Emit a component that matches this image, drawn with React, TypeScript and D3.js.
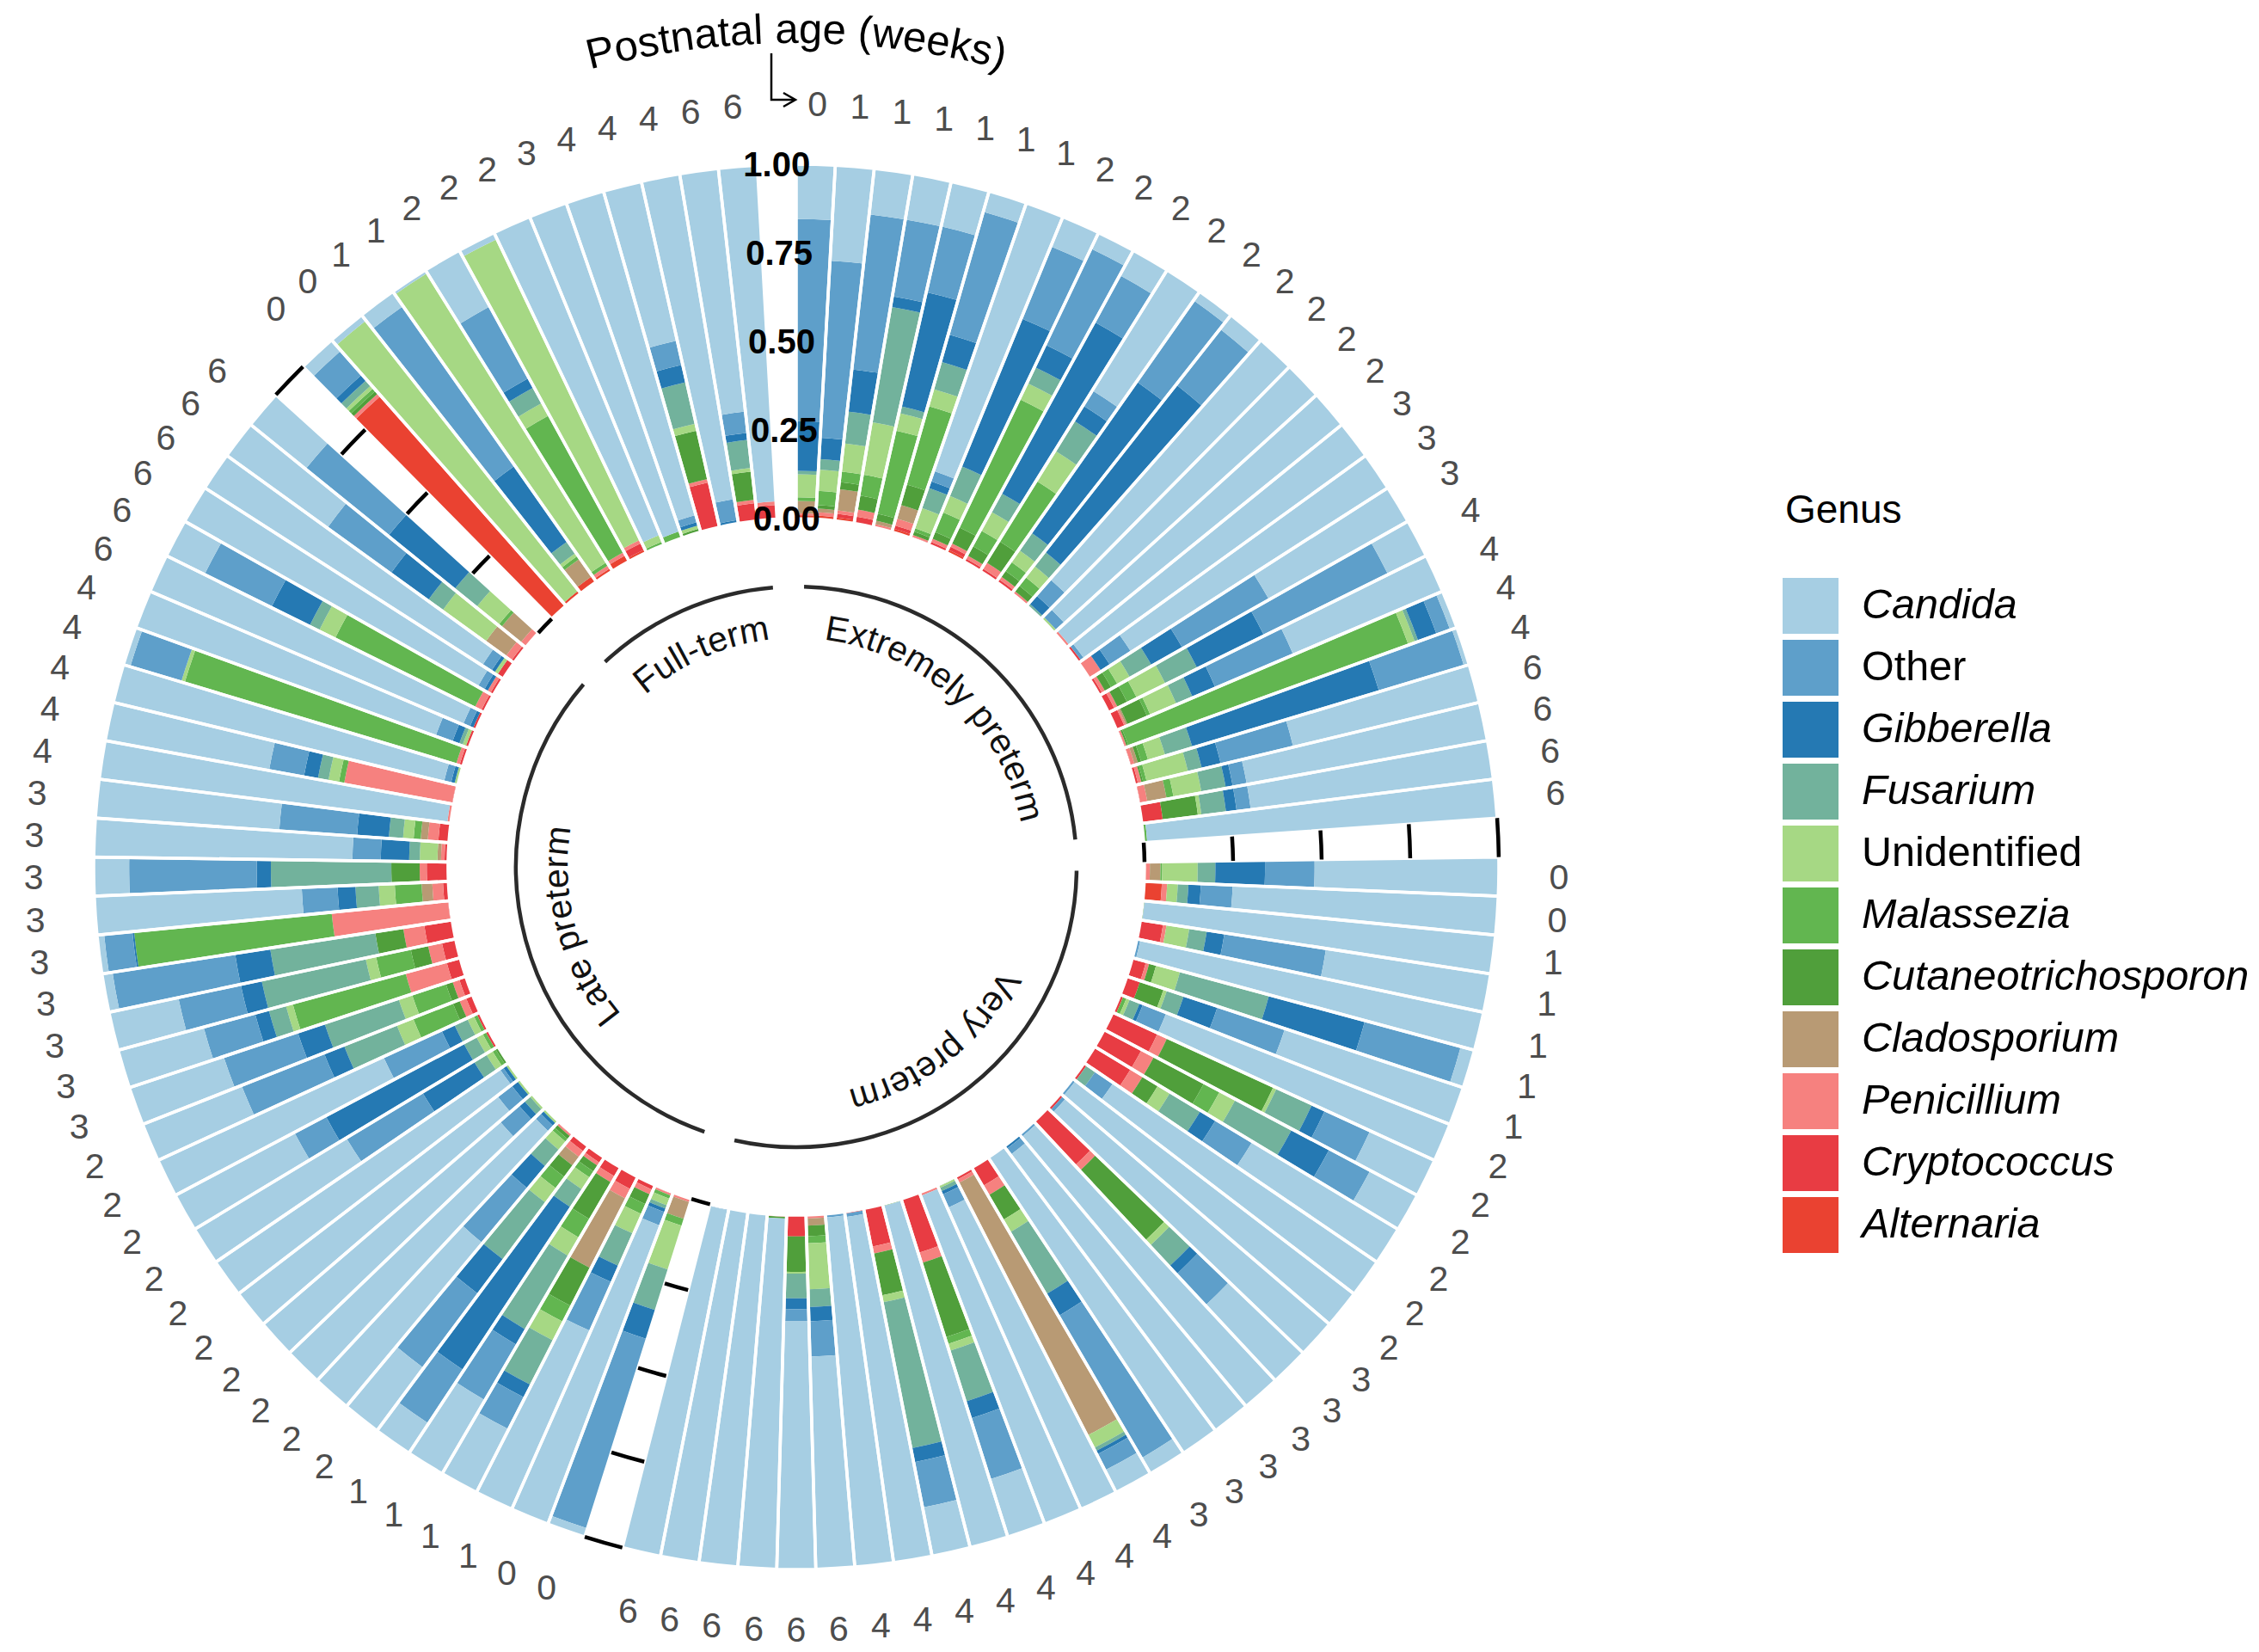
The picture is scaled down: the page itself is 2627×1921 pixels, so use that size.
import React, { useEffect, useRef } from "react";
import * as d3 from "d3";

// genera in legend order; bars are stacked with the last one innermost
const genera = [
  "Candida", "Other", "Gibberella", "Fusarium", "Unidentified", "Malassezia",
  "Cutaneotrichosporon", "Cladosporium", "Penicillium", "Cryptococcus", "Alternaria",
];
const genusColors = [
  "#a6cee3", "#5e9fca", "#2579b3", "#72b29c", "#a6d884", "#62b650",
  "#509f3b", "#b89a74", "#f6817f", "#e83c43", "#ea4231",
];
const italicGenus = [true, false, true, true, false, true, true, true, true, true, true];

const groupNames = ["Extremely preterm", "Very preterm", "Late preterm", "Full-term"];

const extremelyWeeks = [0, 1, 1, 1, 1, 1, 1, 2, 2, 2, 2, 2, 2, 2, 2, 2, 3, 3, 3, 4, 4, 4, 4, 6, 6, 6, 6];
const veryWeeks = [0, 0, 1, 1, 1, 1, 1, 2, 2, 2, 2, 2, 2, 3, 3, 3, 3, 3, 3, 4, 4, 4, 4, 4, 4, 4, 4, 6, 6, 6, 6, 6, 6];
const lateWeeks = [0, 0, 1, 1, 1, 1, 2, 2, 2, 2, 2, 2, 2, 2, 2, 2, 3, 3, 3, 3, 3, 3, 3, 3, 3, 4, 4, 4, 4, 4, 6, 6, 6, 6, 6, 6];
const fullWeeks = [0, 0, 1, 1, 2, 2, 2, 3, 4, 4, 4, 6, 6];

// relative abundance per sample, columns follow `genera`
const extremelyBars = [
  [.155, .57, .14, .01, .065, .01, 0, .035, .005, 0, .01],
  [.27, .50, .06, .03, .06, .04, .01, .01, .01, 0, .01],
  [.13, .44, .12, .09, .08, .03, .02, .06, .01, .01, .01],
  [.13, .22, .03, .33, .15, .06, .04, 0, .02, .02, 0],
  [.13, .19, .33, .02, .05, .24, .02, .01, .01, 0, 0],
  [.06, .36, .08, .08, .05, .23, .06, .04, .02, .01, .01],
  [.80, .03, .02, .06, .06, .01, .01, 0, .005, .005, 0],
  [.09, .22, .45, .09, .05, .06, .02, 0, .01, .01, 0],
  [.05, .30, .07, .05, .05, .40, .05, 0, .01, .01, .01],
  [.08, .15, .55, .06, .06, .05, .03, 0, .01, .01, 0],
  [.40, .05, .05, .10, .10, .20, .07, 0, .02, .01, 0],
  [.03, .28, .52, .06, .04, .03, .02, 0, .01, .01, 0],
  [.05, .20, .60, .05, .04, .03, .02, 0, .01, 0, 0],
  [.90, .06, .03, .01, 0, 0, 0, 0, 0, 0, 0],
  [.96, .03, 0, 0, .01, 0, 0, 0, 0, 0, 0],
  [.99, 0, 0, 0, 0, 0, 0, 0, .01, 0, 0],
  [.98, .01, 0, 0, 0, 0, 0, 0, 0, .01, 0],
  [.86, .07, .03, 0, 0, 0, 0, 0, .04, 0, 0],
  [.45, .28, .10, .07, .04, .02, .02, 0, .01, .01, 0],
  [.12, .39, .21, .10, .09, .03, .03, 0, .01, .02, 0],
  [.46, .24, .07, .05, .08, .01, .06, .005, .005, .025, 0],
  [.02, .04, .055, .01, .02, .84, .005, 0, .005, .005, 0],
  [.015, .25, .55, .08, .05, .02, .01, .01, .01, .005, 0],
  [.54, .21, .055, .04, .12, .01, .005, 0, .01, .01, 0],
  [.69, .04, .02, .07, .08, .02, 0, .055, .02, .005, 0],
  [.69, .04, .03, .07, .01, 0, .10, 0, 0, .06, 0],
  [.99, 0, 0, 0, 0, .01, 0, 0, 0, 0, 0],
];

const veryBars = [
  [.52, .14, .14, .05, .10, .005, 0, .03, .01, 0, .005],
  [.75, .09, .035, .03, .03, 0, 0, 0, .015, 0, .05],
  [.995, 0, 0, 0, 0, 0, .005, 0, 0, 0, 0],
  [.47, .29, .05, .05, .065, 0, 0, 0, .01, .065, 0],
  [.99, .01, 0, 0, 0, 0, 0, 0, 0, 0, 0],
  [.04, .28, .28, .26, .07, 0, .02, 0, .01, .04, 0],
  [.53, .20, .10, .05, .01, 0, .07, 0, 0, .04, 0],
  [.86, .07, .01, .03, .01, .01, 0, 0, 0, .01, 0],
  [.20, .14, .04, .11, .01, 0, .33, 0, .03, .14, 0],
  [.15, .13, .12, .18, .05, .05, .16, 0, .04, .12, 0],
  [.48, .12, .05, .10, .04, 0, .05, 0, .04, .12, 0],
  [.90, .06, 0, .03, 0, 0, 0, 0, 0, .01, 0],
  [.99, .01, 0, 0, 0, 0, 0, 0, 0, 0, 0],
  [.98, .01, 0, 0, 0, 0, 0, 0, 0, .01, 0],
  [.29, .12, .03, .08, .02, 0, .27, 0, .02, .17, 0],
  [.99, .01, 0, 0, 0, 0, 0, 0, 0, 0, 0],
  [.97, .02, .01, 0, 0, 0, 0, 0, 0, 0, 0],
  [1, 0, 0, 0, 0, 0, 0, 0, 0, 0, 0],
  [.05, .46, .07, .20, .04, 0, .08, 0, .03, .06, 0],
  [.07, .05, .01, .01, .04, 0, 0, .80, .01, .01, 0],
  [.93, .04, .01, .01, .005, .005, 0, 0, 0, 0, 0],
  [.99, 0, 0, 0, 0, 0, 0, 0, .01, 0, 0],
  [.17, .18, .05, .15, .02, .02, .22, 0, .03, .16, 0],
  [.995, 0, 0, 0, 0, 0, .005, 0, 0, 0, 0],
  [.14, .13, .04, .42, .02, 0, .12, 0, .02, .11, 0],
  [.985, .01, 0, 0, 0, 0, 0, 0, 0, .005, 0],
  [.99, .01, 0, 0, 0, 0, 0, 0, 0, 0, 0],
  [.60, .10, .04, .05, .13, .02, .03, .02, .01, 0, 0],
  [.70, .035, .03, .07, .005, 0, .10, 0, 0, .06, 0],
  [.99, 0, 0, 0, 0, 0, .005, 0, .005, 0, 0],
  [1, 0, 0, 0, 0, 0, 0, 0, 0, 0, 0],
  [1, 0, 0, 0, 0, 0, 0, 0, 0, 0, 0],
  [.995, .005, 0, 0, 0, 0, 0, 0, 0, 0, 0],
];

const lateBars = [
  [.025, .56, .085, .12, .13, .02, 0, .05, .01, 0, 0],
  [.90, .04, .01, .01, .02, .01, 0, 0, .005, .005, 0],
  [.55, .15, .05, .10, .06, .03, .03, 0, .015, .015, 0],
  [.20, .10, .04, .14, .06, .05, .12, .22, .03, .04, 0],
  [.24, .18, .05, .24, .06, .06, .12, 0, .02, .03, 0],
  [.10, .18, .55, .06, .04, .02, .02, 0, .01, .02, 0],
  [.22, .26, .12, .20, .05, .04, .04, .03, .02, .02, 0],
  [.60, .20, .08, .06, .03, .01, .01, 0, .005, .005, 0],
  [.96, .02, .01, 0, .01, 0, 0, 0, 0, 0, 0],
  [.88, .07, .02, .02, .01, 0, 0, 0, 0, 0, 0],
  [.92, .05, .02, 0, .01, 0, 0, 0, 0, 0, 0],
  [.97, .01, .01, 0, .01, 0, 0, 0, 0, 0, 0],
  [.50, .25, .17, .04, .02, .01, .01, 0, 0, 0, 0],
  [.38, .10, .44, .04, .02, .01, 0, 0, 0, .01, 0],
  [.70, .18, .04, .04, .02, .01, 0, 0, 0, .01, 0],
  [.30, .25, .06, .16, .05, .12, .02, 0, .02, .02, 0],
  [.28, .22, .08, .22, .04, .10, .02, 0, .02, .02, 0],
  [.25, .15, .04, .05, .02, .33, 0, 0, .12, .04, 0],
  [.20, .18, .06, .30, .03, .10, .05, 0, .04, .04, 0],
  [.03, .35, .10, .30, 0, 0, .08, 0, .06, .08, 0],
  [.02, .08, .005, 0, 0, .56, 0, 0, .33, .005, 0],
  [.58, .10, .05, .065, .045, .075, 0, .03, .03, .015, 0],
  [.10, .36, .04, .34, 0, 0, .08, 0, .02, .06, 0],
  [.73, .08, .08, .03, .05, 0, 0, .01, .01, .01, 0],
  [.52, .22, .09, .04, .03, .02, 0, .02, .03, .03, 0],
  [.99, 0, 0, 0, 0, 0, 0, 0, .01, 0, 0],
  [.47, .10, .04, .03, .03, .015, 0, 0, .31, .005, 0],
  [.96, .02, .01, 0, .01, 0, 0, 0, 0, 0, 0],
  [.02, .15, 0, 0, .01, .80, 0, 0, .01, .01, 0],
  [.90, .05, .02, .01, .01, 0, 0, 0, 0, .01, 0],
  [.96, .02, .01, 0, 0, 0, 0, 0, 0, .01, 0],
  [.12, .21, .12, .03, .05, .44, 0, 0, .02, .01, 0],
  [.95, .02, .01, 0, 0, 0, 0, 0, .01, .01, 0],
  [.93, .03, .01, 0, .01, 0, 0, 0, 0, .02, 0],
  [.35, .22, .13, .05, .15, 0, 0, .07, .02, .01, 0],
  [.20, .30, .24, .08, .08, .01, 0, .07, .02, 0, 0],
];

const fullBars = [
  [.04, .09, .02, .02, .01, .01, .01, 0, .01, 0, .79],
  [.02, 0, 0, 0, .97, 0, 0, 0, 0, 0, .01],
  [.05, .55, .26, .04, .01, .01, 0, .06, 0, 0, .02],
  [.01, 0, 0, 0, .96, .01, 0, 0, .01, 0, .01],
  [.18, .23, .03, .05, .04, .44, 0, 0, .01, 0, .02],
  [.02, 0, 0, 0, .94, 0, 0, 0, .01, .02, .01],
  [.97, 0, 0, 0, .02, .01, 0, 0, 0, 0, 0],
  [.98, 0, 0, 0, 0, .02, 0, 0, 0, 0, 0],
  [.95, .02, .01, 0, .01, 0, .01, 0, 0, 0, 0],
  [.46, .07, .05, .12, .02, 0, .14, 0, .01, .13, 0],
  [.93, .06, .01, 0, 0, 0, 0, 0, 0, 0, 0],
  [.69, .06, .02, .08, .01, 0, .08, 0, .01, .05, 0],
  [.95, 0, 0, 0, 0, 0, 0, 0, .01, .04, 0],
];

const yTicks = [0, 0.25, 0.5, 0.75, 1];

const W = 2627;
const H = 1921;
const CX = 926;
const CY = 1008;
const R_IN = 405;
const R_OUT = 817;
const FONT = "'Liberation Sans', Arial, Helvetica, sans-serif";

type Row = { slot: number; week: number; group: number; [k: string]: number };

const App: React.FC = () => {
  const svgRef = useRef<SVGSVGElement | null>(null);

  useEffect(() => {
    const svg = d3.select(svgRef.current);
    svg.selectAll("*").remove();

    // lay out slots: each group followed by one empty slot
    const groupBars = [extremelyBars, veryBars, lateBars, fullBars];
    const groupWeeks = [extremelyWeeks, veryWeeks, lateWeeks, fullWeeks];
    const rows: Row[] = [];
    const gapSlots: number[] = [];
    const spans: { name: string; first: number; last: number }[] = [];
    let slot = 0;
    groupBars.forEach((bars, g) => {
      const first = slot;
      bars.forEach((vals, i) => {
        const row: any = { slot, week: groupWeeks[g][i], group: g };
        genera.forEach((k, j) => (row[k] = vals[j]));
        rows.push(row);
        slot++;
      });
      spans.push({ name: groupNames[g], first, last: slot - 1 });
      gapSlots.push(slot);
      slot++;
    });

    const angle = d3
      .scaleBand<number>()
      .domain(d3.range(slot))
      .range([0, 2 * Math.PI]);
    const bw = angle.bandwidth();
    const mid = (s: number) => (angle(s) as number) + bw / 2;
    const radius = d3.scaleLinear().domain([0, 1]).range([R_IN, R_OUT]);
    const color = d3.scaleOrdinal<string, string>().domain(genera).range(genusColors);

    const stackKeys = genera.slice().reverse();
    const series = d3
      .stack<Row>()
      .keys(stackKeys)
      .value((d, k) => d[k] as number)
      .offset(d3.stackOffsetExpand)(rows);

    const g = svg.append("g").attr("transform", `translate(${CX},${CY})`);

    const segArc = d3
      .arc<any>()
      .innerRadius((d) => radius(d[0]))
      .outerRadius((d) => radius(d[1]))
      .startAngle((d) => angle(d.data.slot) as number)
      .endAngle((d) => (angle(d.data.slot) as number) + bw);

    g.append("g")
      .selectAll("g")
      .data(series)
      .join("g")
      .attr("fill", (s) => color(s.key))
      .selectAll("path")
      .data((s) => s.filter((d) => d[1] - d[0] > 1e-6))
      .join("path")
      .attr("d", segArc);

    // white outline around every bar
    const barArc = d3
      .arc<Row>()
      .innerRadius(R_IN)
      .outerRadius(R_OUT)
      .startAngle((d) => angle(d.slot) as number)
      .endAngle((d) => (angle(d.slot) as number) + bw);
    g.append("g")
      .selectAll("path")
      .data(rows)
      .join("path")
      .attr("d", barArc)
      .attr("fill", "none")
      .attr("stroke", "#fff")
      .attr("stroke-width", 3.6);

    // grid ticks in the empty slots between groups
    const tickG = g.append("g");
    gapSlots.slice(0, -1).forEach((s) => {
      yTicks.forEach((t) => {
        const p = d3.path();
        const a0 = (angle(s) as number) - Math.PI / 2;
        p.arc(0, 0, radius(t), a0, a0 + bw);
        tickG
          .append("path")
          .attr("d", p.toString())
          .attr("fill", "none")
          .attr("stroke", "#000")
          .attr("stroke-width", 4.5);
      });
    });

    // y labels in the top slot
    const topA = mid(gapSlots[gapSlots.length - 1]);
    g.append("g")
      .selectAll("text")
      .data(yTicks)
      .join("text")
      .attr("x", (t) => radius(t) * Math.sin(topA))
      .attr("y", (t) => -radius(t) * Math.cos(topA))
      .attr("text-anchor", "middle")
      .attr("dominant-baseline", "central")
      .attr("font-family", FONT)
      .attr("font-weight", "bold")
      .attr("font-size", 40)
      .attr("fill", "#000")
      .text((t) => d3.format(".2f")(t));

    // week labels
    const RW = 887;
    g.append("g")
      .selectAll("text")
      .data(rows)
      .join("text")
      .attr("x", (d) => RW * Math.sin(mid(d.slot)))
      .attr("y", (d) => -RW * Math.cos(mid(d.slot)))
      .attr("text-anchor", "middle")
      .attr("dominant-baseline", "central")
      .attr("font-family", FONT)
      .attr("font-size", 41)
      .attr("fill", "#4d4d4d")
      .text((d) => d.week);

    // group arcs and curved names
    const defs = svg.append("defs");
    const RA = 326;
    const RT = 266;
    spans.forEach((sp, i) => {
      const a0 = mid(sp.first);
      const a1 = mid(sp.last);
      const p = d3.path();
      p.arc(0, 0, RA, a0 - Math.PI / 2, a1 - Math.PI / 2);
      g.append("path")
        .attr("d", p.toString())
        .attr("fill", "none")
        .attr("stroke", "#2b2b2b")
        .attr("stroke-width", 4.5);

      const am = (a0 + a1) / 2;
      const d = 1.3;
      const tp = d3.path();
      tp.arc(0, 0, RT, am - d - Math.PI / 2, am + d - Math.PI / 2);
      defs.append("path").attr("id", `grp-${i}`).attr("d", tp.toString());
      g.append("text")
        .attr("font-family", FONT)
        .attr("font-size", 41)
        .attr("fill", "#111")
        .append("textPath")
        .attr("href", `#grp-${i}`)
        .attr("startOffset", "50%")
        .attr("text-anchor", "middle")
        .text(sp.name);
    });

    // title on an arc with the bent arrow
    const titlePath = d3.path();
    titlePath.arc(0, 0, 958, -0.6 - Math.PI / 2, 0.6 - Math.PI / 2);
    defs.append("path").attr("id", "title-arc").attr("d", titlePath.toString());
    g.append("text")
      .attr("font-family", FONT)
      .attr("font-size", 49)
      .attr("fill", "#000")
      .append("textPath")
      .attr("href", "#title-arc")
      .attr("startOffset", "50%")
      .attr("text-anchor", "middle")
      .text("Postnatal age (weeks)");

    svg
      .append("path")
      .attr("d", "M897,62 V116 H924")
      .attr("fill", "none")
      .attr("stroke", "#000")
      .attr("stroke-width", 2.5);
    svg
      .append("path")
      .attr("d", "M911,108 L925,116 L911,124")
      .attr("fill", "none")
      .attr("stroke", "#000")
      .attr("stroke-width", 2.5);

    // legend
    const lg = svg.append("g");
    lg.append("text")
      .attr("x", 2076)
      .attr("y", 608)
      .attr("font-family", FONT)
      .attr("font-size", 46)
      .attr("fill", "#000")
      .text("Genus");
    const item = lg
      .selectAll("g.item")
      .data(genera)
      .join("g")
      .attr("class", "item")
      .attr("transform", (_, i) => `translate(2073,${672 + i * 72})`);
    item
      .append("rect")
      .attr("width", 65)
      .attr("height", 65)
      .attr("fill", (d) => color(d));
    item
      .append("text")
      .attr("x", 92)
      .attr("y", 30)
      .attr("dominant-baseline", "central")
      .attr("font-family", FONT)
      .attr("font-size", 48.5)
      .attr("font-style", (_, i) => (italicGenus[i] ? "italic" : "normal"))
      .attr("fill", "#000")
      .text((d) => d);
  }, []);

  return (
    <svg
      ref={svgRef}
      width={W}
      height={H}
      style={{ position: "absolute", left: 0, top: 0, background: "#fff" }}
    />
  );
};

export default App;
